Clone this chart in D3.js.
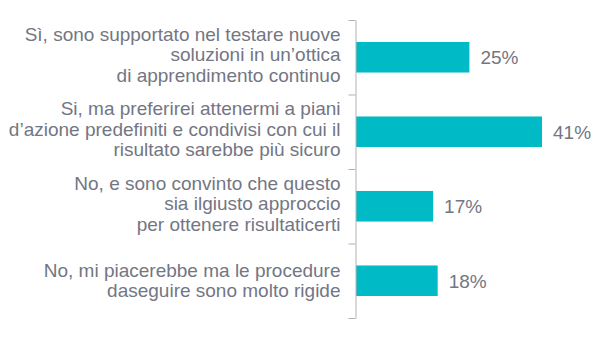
<!DOCTYPE html>
<html>
<head>
<meta charset="utf-8">
<script src="https://cdn.jsdelivr.net/npm/d3@7"></script>
<style>
  html, body { margin: 0; padding: 0; background: #ffffff; }
  svg { display: block; }
</style>
</head>
<body>
<svg id="chart" width="614" height="338"></svg>
<script>
// Survey answers (each answer split into its display lines) and their shares in percent
const categories = [
  ["Sì, sono supportato nel testare nuove", "soluzioni in un’ottica", "di apprendimento continuo"],
  ["Si, ma preferirei attenermi a piani", "d’azione predefiniti e condivisi con cui il", "risultato sarebbe più sicuro"],
  ["No, e sono convinto che questo", "sia ilgiusto approccio", "per ottenere risultaticerti"],
  ["No, mi piacerebbe ma le procedure", "daseguire sono molto rigide"]
];
const values = [25, 41, 17, 18];
const valueLabels = ["25%", "41%", "17%", "18%"];

(function () {
  const axisX = 355.5;
  const plotTop = 20, plotBottom = 318;
  const barColor = "#00bac6";
  const textColor = "#737683";
  const fontFamily = "'Liberation Sans', Arial, sans-serif";

  const svg = d3.select("#chart");
  const keys = categories.map((c, i) => i);

  // One band per answer; bars sit in the middle of their band
  const y = d3.scaleBand()
    .domain(keys)
    .range([plotTop, plotBottom])
    .paddingInner(0.59)
    .paddingOuter(0.295);

  // Band boundaries for the axis ticks
  const yEdge = d3.scaleLinear().domain([0, keys.length]).range([plotTop, plotBottom]);

  const x = d3.scaleLinear()
    .domain([0, d3.max(values)])
    .range([axisX + 0.5, 542]);

  // Bars
  svg.append("g")
    .selectAll("rect")
    .data(values)
    .join("rect")
    .attr("x", x(0))
    .attr("y", (d, i) => y(i))
    .attr("width", d => x(d) - x(0))
    .attr("height", y.bandwidth())
    .attr("fill", barColor);

  // Vertical axis with ticks at band boundaries
  const axis = svg.append("g")
    .attr("transform", `translate(${axisX},0)`)
    .call(d3.axisLeft(yEdge)
      .tickValues(d3.range(keys.length + 1))
      .tickSizeInner(7)
      .tickSizeOuter(0)
      .tickFormat(""));
  axis.select(".domain").attr("stroke", "#b3b3b3");
  axis.selectAll(".tick line").attr("stroke", "#b3b3b3");

  // Category labels, right aligned against the axis
  const lineH = 20.3;
  const labels = svg.append("g")
    .selectAll("text")
    .data(categories)
    .join("text")
    .attr("text-anchor", "end")
    .attr("font-family", fontFamily)
    .attr("font-size", 19)
    .attr("fill", textColor)
    .attr("x", axisX - 15)
    .attr("y", (d, i) => y(i) + y.bandwidth() / 2 - (d.length - 1) * lineH / 2 + 6 - (d.length > 2 ? 2 : 0));

  labels.selectAll("tspan")
    .data(d => d)
    .join("tspan")
    .attr("x", axisX - 15)
    .attr("dy", (d, j) => j === 0 ? 0 : lineH)
    .text(d => d);

  // Value labels at the end of each bar
  svg.append("g")
    .selectAll("text")
    .data(values)
    .join("text")
    .attr("font-family", fontFamily)
    .attr("font-size", 19)
    .attr("fill", textColor)
    .attr("x", d => x(d) + 11)
    .attr("y", (d, i) => y(i) + y.bandwidth() / 2 + 7)
    .text((d, i) => valueLabels[i]);
})();
</script>
</body>
</html>
